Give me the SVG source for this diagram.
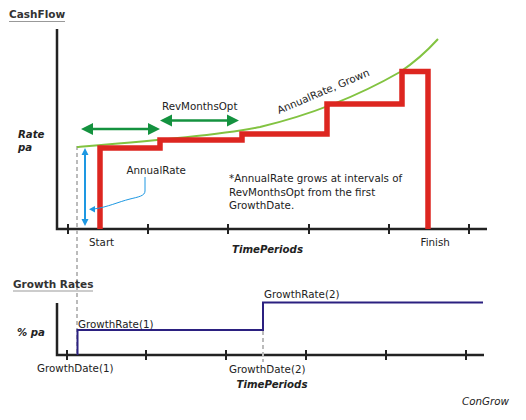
<svg xmlns="http://www.w3.org/2000/svg" width="526" height="420" viewBox="0 0 526 420">
<style>
text{font-family:"DejaVu Sans",Verdana,sans-serif;font-size:10.3px;fill:#222}
.h{font-weight:bold;font-size:10.5px;fill:#333}
.bi{font-weight:bold;font-style:italic;font-size:10.2px}
.ax{stroke:#222;stroke-width:2.5;fill:none}
.tk{stroke:#222;stroke-width:2;fill:none}
.dash{stroke:#bbb;stroke-width:2;stroke-dasharray:4 3;fill:none}
.ga{stroke:#14923f;stroke-width:2.5;fill:none}
.gh{fill:#14923f}
.bl{stroke:#1e98e2;fill:none}
.bh{fill:#1e98e2}
</style>
<rect width="526" height="420" fill="#fff"/>
<g id="cashflow-chart">
<text class="h" x="9" y="18">CashFlow</text>
<line x1="9" y1="21.5" x2="65" y2="21.5" stroke="#999" stroke-width="1"/>
<text class="bi" x="18" y="138">Rate</text>
<text class="bi" x="18" y="151">pa</text>
<path class="ax" d="M57,29 V229 H487"/>
<path class="tk" d="M68,224 V234 M148,224 V234 M228,224 V234 M309,224 V234 M389,224 V234 M469,224 V234"/>
<line class="dash" x1="77" y1="146" x2="77" y2="356"/>
<path d="M77,147 C160,140 220,135 260,127 C310,115 360,95 400,72 C415,62 428,50 438,39" stroke="#82c341" stroke-width="2" fill="none"/>
<path d="M100,229 V148 H160 V140 H242 V134 H327 V104 H402 V71.5 H428 V229" stroke="#dd2620" stroke-width="5.5" fill="none"/>
<text x="0" y="0" transform="translate(279,114) rotate(-23)">AnnualRate, Grown</text>
<text x="162" y="110">RevMonthsOpt</text>
<text x="126.5" y="173.5">AnnualRate</text>
<text x="229" y="182">*AnnualRate grows at intervals of</text>
<text x="229" y="195.5">RevMonthsOpt from the first</text>
<text x="229" y="209">GrowthDate.</text>
<text x="89" y="245.5">Start</text>
<text x="420.5" y="245.5">Finish</text>
<text class="bi" x="232" y="252.5">TimePeriods</text>
</g>
<g id="connectors">
<line class="ga" x1="90" y1="129" x2="151" y2="129"/>
<path class="gh" d="M81,129 L93,123 V135 Z M160,129 L148,123 V135 Z"/>
<line class="ga" x1="169" y1="120.5" x2="230" y2="120.5"/>
<path class="gh" d="M160,120.5 L172,114.5 V126.5 Z M239,120.5 L227,114.5 V126.5 Z"/>
<line class="bl" stroke-width="2" x1="85" y1="153" x2="85" y2="221"/>
<path class="bh" d="M85,148 L81.5,155 H88.5 Z M85,226 L81.5,219 H88.5 Z"/>
<path class="bl" stroke-width="1" d="M145,177 V191 C145,196 138,197 130,199 C118,202 108,207 94,209"/>
<path class="bh" d="M89,209.3 L95,206 L95,212.5 Z"/>
</g>
<g id="growth-chart">
<text class="h" x="13" y="288">Growth Rates</text>
<line x1="13" y1="291" x2="93" y2="291" stroke="#999" stroke-width="1"/>
<text class="bi" x="17" y="336">% pa</text>
<path class="ax" d="M57,303 V355 H484"/>
<path class="tk" d="M67,350 V360 M146,350 V360 M226,350 V360 M306,350 V360 M386,350 V360 M466,350 V360"/>
<line class="dash" x1="263" y1="303" x2="263" y2="362"/>
<path d="M77.5,355 V330 H263 V302.5 H483" stroke="#2b2080" stroke-width="2" fill="none"/>
<text x="78" y="328">GrowthRate(1)</text>
<text x="264" y="297.5">GrowthRate(2)</text>
<text x="37" y="372">GrowthDate(1)</text>
<text x="229" y="372.5">GrowthDate(2)</text>
<text class="bi" x="236.5" y="388">TimePeriods</text>
<text x="462" y="405" font-style="italic">ConGrow</text>
</g>
</svg>
